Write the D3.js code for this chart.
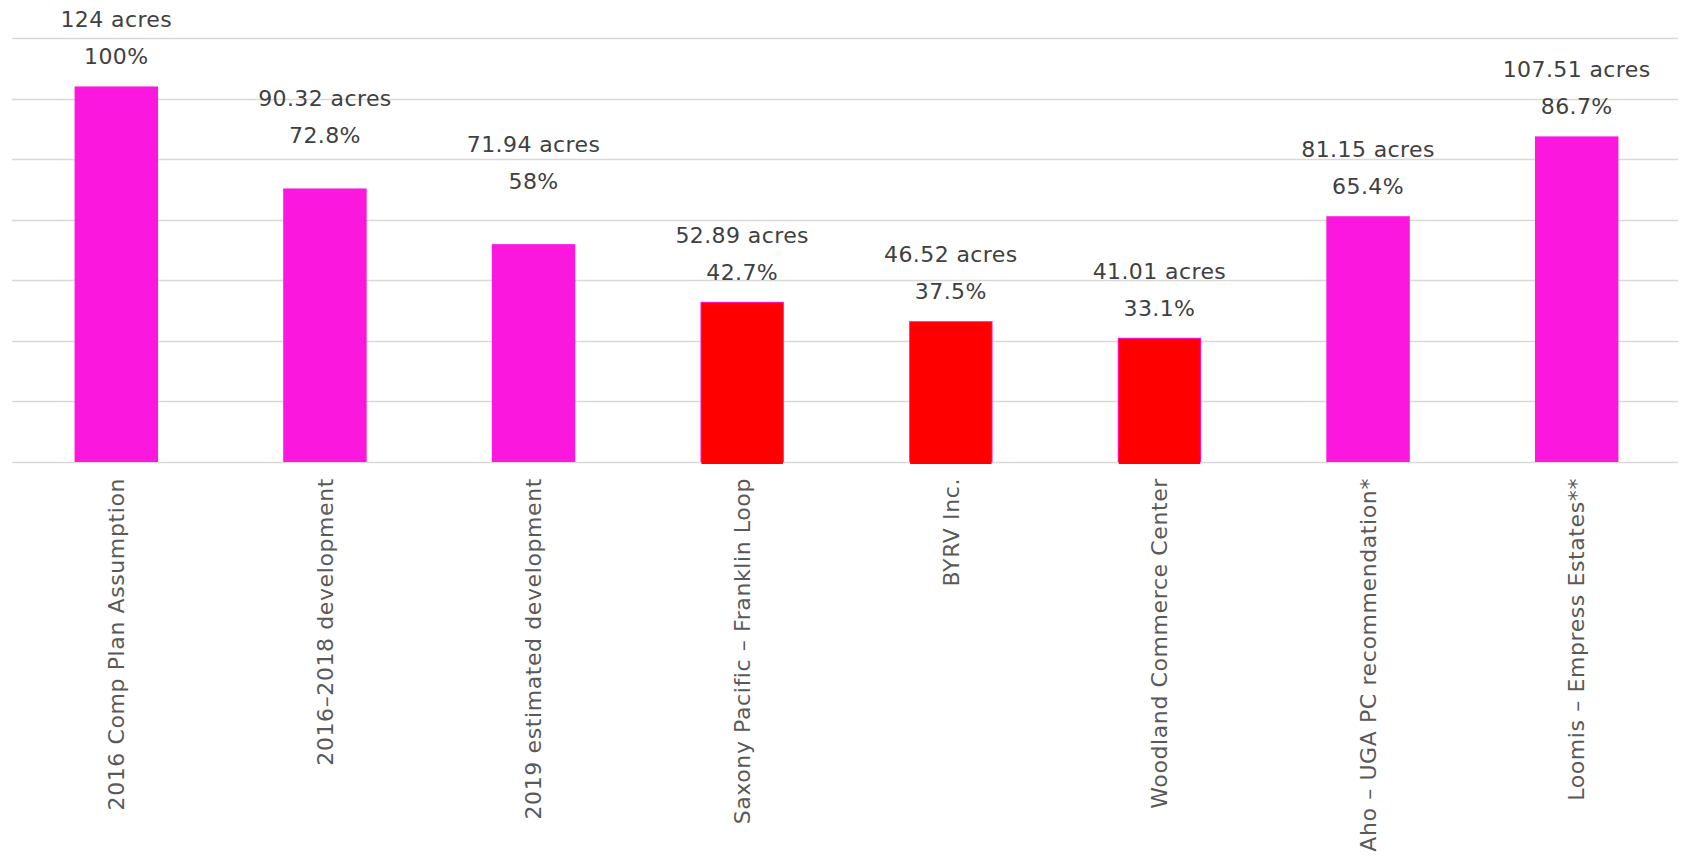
<!DOCTYPE html>
<html>
<head>
<meta charset="utf-8">
<script src="https://d3js.org/d3.v7.min.js"></script>
<style>
  body { margin: 0; background: #fff; }
  text { font-family: "DejaVu Sans", Verdana, sans-serif; }
</style>
</head>
<body>
<script>
var chartOption = {
  width: 1683,
  height: 862,
  left: 12,
  right: 1681,
  top: 38,
  bottom: 462,
  // some labels in the original sit higher than the rest
  labelLift: {'2016\u20132018 development': 23, '2019 estimated development': 33}
};

// data
var categories = [
  '2016 Comp Plan Assumption',
  '2016\u20132018 development',
  '2019 estimated development',
  'Saxony Pacific \u2013 Franklin Loop',
  'BYRV Inc.',
  'Woodland Commerce Center',
  'Aho \u2013 UGA PC recommendation*',
  'Loomis \u2013 Empress Estates**'
];
var acres = [124, 90.32, 71.94, 52.89, 46.52, 41.01, 81.15, 107.51];
var percents = ['100%', '72.8%', '58%', '42.7%', '37.5%', '33.1%', '65.4%', '86.7%'];
var highlighted = [false, false, false, true, true, true, false, false];
var yTicks = [0, 20, 40, 60, 80, 100, 120, 140];

var bars = categories.map(function(c, i){
  return {name: c, acres: acres[i], pct: percents[i], hi: highlighted[i]};
});

var lift = function(d){ return chartOption.labelLift[d.name] || 0; };

var svg = d3.select('body')
            .append('svg')
            .attr('width', chartOption.width)
            .attr('height', chartOption.height);

var x = d3.scaleBand()
          .domain(categories)
          .range([chartOption.left, chartOption.right])
          .paddingInner(0.6)
          .paddingOuter(0.3);

var y = d3.scaleLinear()
          .domain([0, 140])
          .range([chartOption.bottom, chartOption.top]);

// gridlines
svg.append('g')
   .selectAll('line')
   .data(yTicks)
   .enter()
     .append('line')
     .attr('x1', chartOption.left)
     .attr('x2', chartOption.right - 3)
     .attr('y1', function(d){ return Math.round(y(d)) + 0.5; })
     .attr('y2', function(d){ return Math.round(y(d)) + 0.5; })
     .style('stroke', '#d9d9d9')
     .style('stroke-width', 1.5);

var barGroup = svg.append('g');

barGroup.selectAll('rect.base')
        .data(bars)
        .enter()
          .append('rect')
          .attr('class', 'base')
          .attr('x', function(d){ return x(d.name); })
          .attr('y', function(d){ return y(d.acres); })
          .attr('width', x.bandwidth())
          .attr('height', function(d){ return y(0) - y(d.acres); })
          .style('fill', '#fb17dd');

// red overlay for the three highlighted projects
barGroup.selectAll('rect.hi')
        .data(bars.filter(function(d){ return d.hi; }))
        .enter()
          .append('rect')
          .attr('class', 'hi')
          .attr('x', function(d){ return x(d.name) + 1; })
          .attr('y', function(d){ return y(d.acres) + 1; })
          .attr('width', x.bandwidth() - 2)
          .attr('height', function(d){ return y(0) - y(d.acres) + 1; })
          .style('fill', '#ff0000');

// value labels
var labels = svg.append('g');

labels.selectAll('text.acres')
      .data(bars)
      .enter()
        .append('text')
        .attr('x', function(d){ return x(d.name) + x.bandwidth() / 2; })
        .attr('y', function(d){ return y(d.acres) - 59 - lift(d); })
        .attr('text-anchor', 'middle')
        .style('font-size', '22px')
        .style('letter-spacing', '0.4px')
        .style('fill', '#404040')
        .text(function(d){ return d.acres + ' acres'; });

labels.selectAll('text.pct')
      .data(bars)
      .enter()
        .append('text')
        .attr('x', function(d){ return x(d.name) + x.bandwidth() / 2; })
        .attr('y', function(d){ return y(d.acres) - 22 - lift(d); })
        .attr('text-anchor', 'middle')
        .style('font-size', '22px')
        .style('letter-spacing', '0.4px')
        .style('fill', '#404040')
        .text(function(d){ return d.pct; });

// category axis
var xAxis = svg.append('g')
               .attr('transform', 'translate(0,' + chartOption.bottom + ')')
               .call(d3.axisBottom(x).tickSize(0).tickPadding(0));

xAxis.select('.domain').remove();

xAxis.selectAll('text')
     .attr('transform', 'rotate(-90)')
     .attr('x', -16)
     .attr('y', 0)
     .attr('dy', '0.35em')
     .style('text-anchor', 'end')
     .style('font-size', '22px')
     .style('letter-spacing', '0.6px')
     .style('font-family', '"DejaVu Sans", Verdana, sans-serif')
     .style('fill', '#595959');
</script>
</body>
</html>
